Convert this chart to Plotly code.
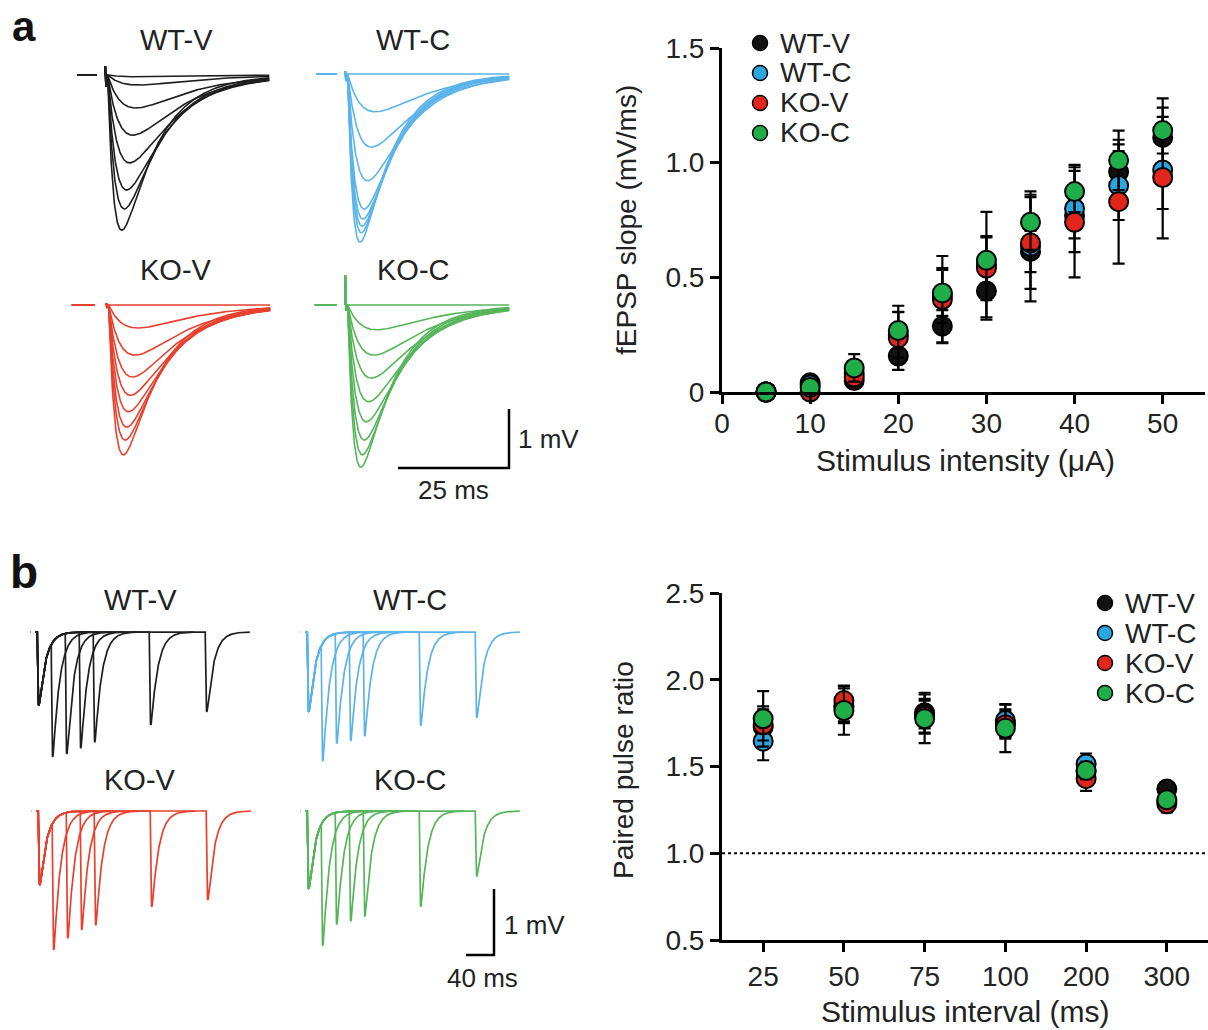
import numpy as np
import plotly.graph_objects as go

W, H = 1208, 1030
FONT = "Liberation Sans, Arial, Helvetica, sans-serif"

GROUPS = ["WT-V", "WT-C", "KO-V", "KO-C"]
TRACE_COLORS = {"WT-V": "#1e1e1e", "WT-C": "#5bb3ea", "KO-V": "#e8402e", "KO-C": "#56b55a"}
MARKER_COLORS = {"WT-V": "#111111", "WT-C": "#2aa7e0", "KO-V": "#e3261c", "KO-C": "#1fae4a"}

# ---------------- panel a: input/output sample traces ----------------
# peak fEPSP amplitude (mV) of each overlaid sweep
IO_SWEEP_AMPS = {
    "WT-V": [0.03, 0.17, 0.56, 1.02, 1.49, 1.95, 2.27, 2.63],
    "WT-C": [0.0, 0.64, 1.24, 1.81, 2.29, 2.46, 2.58, 2.69, 2.85],
    "KO-V": [0.0, 0.39, 0.85, 1.22, 1.53, 1.81, 2.07, 2.29, 2.54],
    "KO-C": [0.0, 0.42, 0.85, 1.24, 1.64, 1.98, 2.29, 2.54, 2.75],
}
# stimulus artifact excursion (mV): up, down
IO_ARTIFACT = {"WT-V": (0.15, -0.2), "WT-C": (0.05, -0.12), "KO-V": (0.03, -0.05), "KO-C": (0.5, -0.1)}
# pre-stimulus baseline segment (ms)
IO_PRESEG = {"WT-V": (-6.3, -1.8), "WT-C": (-6.5, -1.8), "KO-V": (-7.7, -2.5), "KO-C": (-6.8, -1.8)}
IO_T_END = 37.0

# ---------------- panel a: fEPSP slope vs stimulus intensity ----------------
INTENSITY = [5, 10, 15, 20, 25, 30, 35, 40, 45, 50]
SLOPE_MEAN = {
    "WT-V": [0.0, 0.04, 0.05, 0.157, 0.287, 0.44, 0.613, 0.77, 0.96, 1.11],
    "WT-C": [0.0, 0.03, 0.08, 0.25, 0.42, 0.555, 0.635, 0.80, 0.90, 0.968],
    "KO-V": [0.0, 0.0, 0.065, 0.236, 0.403, 0.54, 0.65, 0.74, 0.83, 0.935],
    "KO-C": [0.0, 0.02, 0.105, 0.268, 0.432, 0.574, 0.74, 0.874, 1.01, 1.14],
}
SLOPE_SEM = {
    "WT-V": [0.01, 0.02, 0.03, 0.06, 0.07, 0.125, 0.09, 0.10, 0.12, 0.17],
    "WT-C": [0.01, 0.02, 0.04, 0.10, 0.12, 0.23, 0.24, 0.19, 0.15, 0.17],
    "KO-V": [0.01, 0.02, 0.04, 0.14, 0.19, 0.14, 0.20, 0.24, 0.27, 0.265],
    "KO-C": [0.01, 0.02, 0.06, 0.08, 0.10, 0.10, 0.12, 0.09, 0.13, 0.10],
}

# ---------------- panel b: paired-pulse sample traces ----------------
PP_INTERVALS = [25, 50, 75, 100, 200, 300]
PP_FIRST_AMP = {"WT-V": 1.11, "WT-C": 1.21, "KO-V": 1.12, "KO-C": 1.18}
PP_SECOND_AMP = {
    "WT-V": [1.74, 1.83, 1.76, 1.67, 1.41, 1.21],
    "WT-C": [1.79, 1.67, 1.65, 1.58, 1.42, 1.30],
    "KO-V": [1.95, 1.91, 1.80, 1.73, 1.45, 1.35],
    "KO-C": [1.88, 1.70, 1.67, 1.60, 1.45, 0.99],
}
PP_SWEEP_TAIL = 80.0

# ---------------- panel b: paired pulse ratio ----------------
PPR_LABELS = ["25", "50", "75", "100", "200", "300"]
PPR_MEAN = {
    "WT-V": [1.727, 1.85, 1.81, 1.75, 1.47, 1.37],
    "WT-C": [1.646, 1.84, 1.80, 1.765, 1.515, 1.30],
    "KO-V": [1.74, 1.88, 1.79, 1.74, 1.43, 1.285],
    "KO-C": [1.775, 1.823, 1.775, 1.72, 1.477, 1.308],
}
PPR_SEM = {
    "WT-V": [0.12, 0.10, 0.115, 0.08, 0.06, 0.03],
    "WT-C": [0.11, 0.08, 0.08, 0.095, 0.06, 0.04],
    "KO-V": [0.09, 0.087, 0.10, 0.08, 0.07, 0.05],
    "KO-C": [0.16, 0.14, 0.14, 0.137, 0.05, 0.04],
}


# ---------------- waveform model ----------------
def epsp(t, amp, tau_r, tau_d, onset):
    s = np.asarray(t, dtype=float) - onset
    tpk = tau_r * tau_d / (tau_d - tau_r) * np.log(tau_d / tau_r)
    norm = np.exp(-tpk / tau_d) - np.exp(-tpk / tau_r)
    sc = np.clip(s, 0, None)
    out = np.where(s > 0, np.exp(-sc / tau_d) - np.exp(-sc / tau_r), 0.0)
    return -amp * out / norm


def io_group_xy(g):
    xs, ys = [], []
    p0, p1 = IO_PRESEG[g]
    up, dn = IO_ARTIFACT[g]
    for a in IO_SWEEP_AMPS[g]:
        frac = a / 2.8
        tr = 4.4 - 3.0 * frac
        td = 13.0 - 5.5 * frac
        xs += [p0, p1, None]
        ys += [0, 0, None]
        ta = [0.0, 0.08, 0.2, 0.35]
        va = [0.0, up, dn, 0.0]
        t = np.linspace(0.4, IO_T_END, 500)
        v = epsp(t, a, tr, td, 0.6)
        xs += ta + list(t) + [None]
        ys += va + list(v) + [None]
    return xs, ys


def pp_group_xy(g):
    xs, ys = [-12.5, -11.5, None], [0, 0, None]
    a1 = PP_FIRST_AMP[g]
    for isi, a2 in zip(PP_INTERVALS, PP_SECOND_AMP[g]):
        t = np.arange(-3.0, isi + PP_SWEEP_TAIL, 0.15)
        v = epsp(t, a1, 1.0, 12.0, 0.5) + epsp(t, a2, 1.0, 12.0, isi + 0.5)
        xs += list(t) + [None]
        ys += list(v) + [None]
    return xs, ys


fig = go.Figure()
layout_axes = {}


def PX(x):
    return x / W


def PY(y):
    return 1 - y / H


def dom_x(x0, x1):
    return [max(0.0, PX(x0)), min(1.0, PX(x1))]


def dom_y(y0, y1):
    return [max(0.0, PY(y1)), min(1.0, PY(y0))]


# trace panel geometry: origin pixel (stim time, baseline) and pixel box
IO_PANELS = {
    "WT-V": (105, 75, (60, 290, 50, 250)),
    "WT-C": (345, 74, (300, 530, 50, 260)),
    "KO-V": (106, 305, (60, 290, 280, 480)),
    "KO-C": (345, 305, (300, 530, 262, 480)),
}
IO_SX, IO_SY = 4.44, 59.0
PP_PANELS = {
    "WT-V": (37, 632, (15, 265, 615, 775)),
    "WT-C": (307, 632, (285, 535, 615, 775)),
    "KO-V": (38, 811, (15, 265, 795, 960)),
    "KO-C": (307, 811, (285, 535, 795, 960)),
}
PP_SX, PP_SY = 0.56, 66.0

ax_i = 1


def add_trace_axes(ox, oy, box, sx, sy):
    global ax_i
    x0, x1, y0, y1 = box
    xr = [(x0 - ox) / sx, (x1 - ox) / sx]
    yr = [-(y1 - oy) / sy, (oy - y0) / sy]
    n = ax_i
    ax_i += 1
    layout_axes[f"xaxis{n}"] = dict(domain=dom_x(x0, x1), range=xr, visible=False, anchor=f"y{n}", fixedrange=True)
    layout_axes[f"yaxis{n}"] = dict(domain=dom_y(y0, y1), range=yr, visible=False, anchor=f"x{n}", fixedrange=True)
    return f"x{n}", f"y{n}"


for g in GROUPS:
    ox, oy, box = IO_PANELS[g]
    xa, ya = add_trace_axes(ox, oy, box, IO_SX, IO_SY)
    xs, ys = io_group_xy(g)
    fig.add_trace(go.Scatter(x=xs, y=ys, mode="lines", line=dict(color=TRACE_COLORS[g], width=1.6),
                             xaxis=xa, yaxis=ya, showlegend=False, hoverinfo="skip", connectgaps=False))

for g in GROUPS:
    ox, oy, box = PP_PANELS[g]
    xa, ya = add_trace_axes(ox, oy, box, PP_SX, PP_SY)
    xs, ys = pp_group_xy(g)
    fig.add_trace(go.Scatter(x=xs, y=ys, mode="lines", line=dict(color=TRACE_COLORS[g], width=1.7),
                             xaxis=xa, yaxis=ya, showlegend=False, hoverinfo="skip", connectgaps=False))

# ---------------- scatter panels ----------------
AX_LINE = dict(showline=True, linecolor="black", linewidth=3, ticks="outside", ticklen=9, tickwidth=3,
               tickcolor="black", showgrid=False, zeroline=False, fixedrange=True, automargin=False,
               tickfont=dict(family=FONT, size=28, color="#222"))

na = ax_i
ax_i += 1
layout_axes[f"xaxis{na}"] = dict(AX_LINE, domain=dom_x(722, 1205), range=[0, 54.8], tickvals=[0, 10, 20, 30, 40, 50],
                                  anchor=f"y{na}", ticklabelstandoff=-5)
layout_axes[f"yaxis{na}"] = dict(AX_LINE, domain=dom_y(48, 392), range=[0, 1.5], tickvals=[0, 0.5, 1.0, 1.5],
                                  ticktext=["0", "0.5", "1.0", "1.5"], anchor=f"x{na}")
nb = ax_i
ax_i += 1
layout_axes[f"xaxis{nb}"] = dict(AX_LINE, domain=dom_x(722, 1208), range=[0.49, 6.51], tickvals=[1, 2, 3, 4, 5, 6],
                                  ticktext=PPR_LABELS, anchor=f"y{nb}")
layout_axes[f"yaxis{nb}"] = dict(AX_LINE, domain=dom_y(593, 940), range=[0.5, 2.5],
                                  tickvals=[0.5, 1.0, 1.5, 2.0, 2.5],
                                  ticktext=["0.5", "1.0", "1.5", "2.0", "2.5"], anchor=f"x{nb}")

for g in GROUPS:
    fig.add_trace(go.Scatter(
        x=INTENSITY, y=SLOPE_MEAN[g], mode="markers", name=g, showlegend=False,
        error_y=dict(type="data", array=SLOPE_SEM[g], color="black", thickness=2.2, width=6),
        marker=dict(size=19, color=MARKER_COLORS[g], line=dict(color="black", width=2)),
        xaxis=f"x{na}", yaxis=f"y{na}", cliponaxis=False))

for g in GROUPS:
    fig.add_trace(go.Scatter(
        x=[1, 2, 3, 4, 5, 6], y=PPR_MEAN[g], mode="markers", name=g, showlegend=False,
        error_y=dict(type="data", array=PPR_SEM[g], color="black", thickness=2.2, width=6),
        marker=dict(size=19, color=MARKER_COLORS[g], line=dict(color="black", width=2)),
        xaxis=f"x{nb}", yaxis=f"y{nb}", cliponaxis=False))

shapes = [
    # dotted reference line at PPR = 1
    dict(type="line", xref="paper", yref=f"y{nb}", x0=PX(722), x1=1.0, y0=1.0, y1=1.0,
         line=dict(color="black", width=2, dash="dot")),
    # scale bar a
    dict(type="line", xref="paper", yref="paper", x0=PX(398), x1=PX(510), y0=PY(468), y1=PY(468),
         line=dict(color="black", width=2.5)),
    dict(type="line", xref="paper", yref="paper", x0=PX(509), x1=PX(509), y0=PY(469), y1=PY(409),
         line=dict(color="black", width=2.5)),
    # scale bar b
    dict(type="line", xref="paper", yref="paper", x0=PX(466), x1=PX(495), y0=PY(955), y1=PY(955),
         line=dict(color="black", width=2.5)),
    dict(type="line", xref="paper", yref="paper", x0=PX(494), x1=PX(494), y0=PY(956), y1=PY(889),
         line=dict(color="black", width=2.5)),
]


def ann(text, x, y, size, xanchor="center", bold=False, angle=0, color="#222"):
    return dict(text=f"<b>{text}</b>" if bold else text, x=PX(x), y=PY(y), xref="paper", yref="paper",
                showarrow=False, xanchor=xanchor, yanchor="middle", textangle=angle,
                font=dict(family=FONT, size=size, color=color))


annotations = [
    ann("a", 24, 26, 42, bold=True, color="#111"),
    ann("b", 24, 572, 46, bold=True, color="#111"),
    ann("WT-V", 176, 40, 29), ann("WT-C", 413, 40, 29),
    ann("KO-V", 176, 270, 29), ann("KO-C", 413, 270, 29),
    ann("WT-V", 140, 600, 29), ann("WT-C", 410, 600, 29),
    ann("KO-V", 140, 780, 29), ann("KO-C", 410, 780, 29),
    ann("1 mV", 516, 439, 26, xanchor="left"), ann("25 ms", 453, 490, 26),
    ann("1 mV", 502, 925, 26, xanchor="left"), ann("40 ms", 482, 978, 26),
    ann("fEPSP slope (mV/ms)", 626, 220, 28, angle=-90),
    ann("Stimulus intensity (\u03bcA)", 965, 460, 30),
    ann("Paired pulse ratio", 623, 770, 28, angle=-90),
    ann("Stimulus interval (ms)", 965, 1011, 30),
]

# legends (marker + label) for the two scatter panels
LEGEND_POS = [(760, 43), (1105, 603)]
for (lx, ly) in LEGEND_POS:
    for i, g in enumerate(GROUPS):
        yy = ly + 30 * i
        shapes.append(dict(type="circle", xref="paper", yref="paper", xsizemode="pixel", ysizemode="pixel",
                           xanchor=PX(lx), yanchor=PY(yy), x0=-7.5, x1=7.5, y0=-7.5, y1=7.5,
                           fillcolor=MARKER_COLORS[g], line=dict(color="black", width=1.5)))
        annotations.append(ann(g, lx + 18, yy, 28, xanchor="left"))

fig.update_layout(
    width=W, height=H, margin=dict(l=0, r=0, t=0, b=0, pad=0, autoexpand=False),
    paper_bgcolor="white", plot_bgcolor="rgba(0,0,0,0)",
    font=dict(family=FONT, color="#222"),
    shapes=shapes, annotations=annotations, showlegend=False,
    **layout_axes,
)

fig.write_html("out.html", config={"displayModeBar": False},
               post_script="document.body.style.margin='0px';")
